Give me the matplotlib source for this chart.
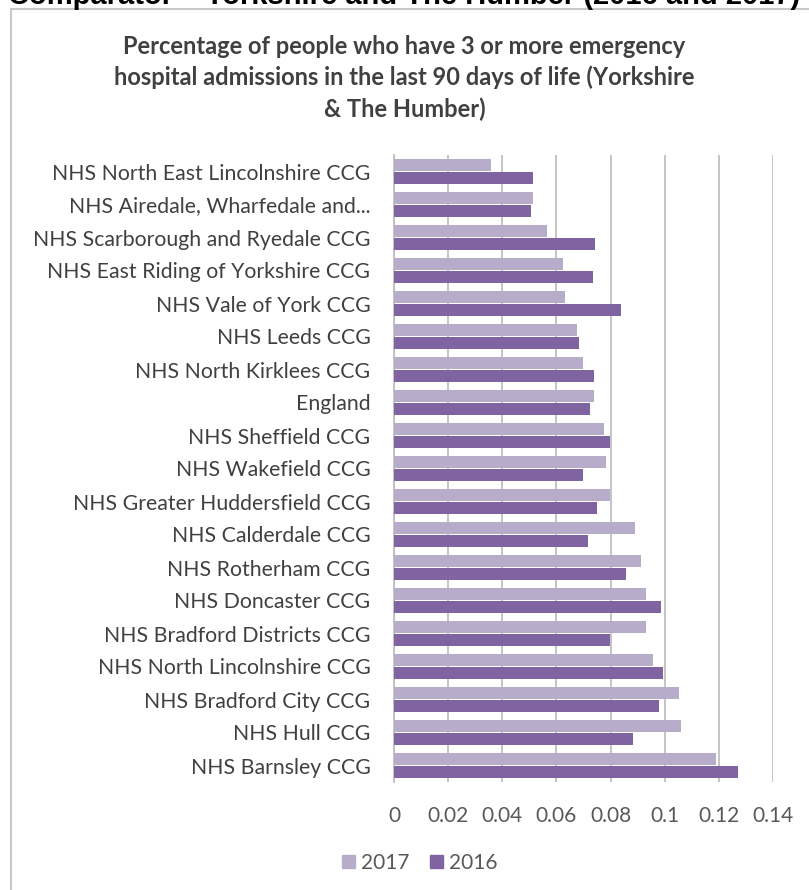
import matplotlib
matplotlib.use('Agg')
import matplotlib.pyplot as plt
import numpy as np
from matplotlib.lines import Line2D

ccgs = ['NHS North East Lincolnshire CCG', 'NHS Airedale, Wharfedale and...',
        'NHS Scarborough and Ryedale CCG', 'NHS East Riding of Yorkshire CCG',
        'NHS Vale of York CCG', 'NHS Leeds CCG', 'NHS North Kirklees CCG', 'England',
        'NHS Sheffield CCG', 'NHS Wakefield CCG', 'NHS Greater Huddersfield CCG',
        'NHS Calderdale CCG', 'NHS Rotherham CCG', 'NHS Doncaster CCG',
        'NHS Bradford Districts CCG', 'NHS North Lincolnshire CCG',
        'NHS Bradford City CCG', 'NHS Hull CCG', 'NHS Barnsley CCG']
y2017 = [0.036, 0.0513, 0.0565, 0.0624, 0.063, 0.0676, 0.0698, 0.0739, 0.0776, 0.0783,
         0.0798, 0.089, 0.0912, 0.0931, 0.093, 0.0955, 0.1053, 0.106, 0.119]
y2016 = [0.0513, 0.0506, 0.0743, 0.0735, 0.0839, 0.0683, 0.0739, 0.0724, 0.0798, 0.0698,
         0.075, 0.0717, 0.0857, 0.0986, 0.0798, 0.0993, 0.098, 0.0884, 0.127]
xticks = [0, 0.02, 0.04, 0.06, 0.08, 0.1, 0.12, 0.14]
xtick_labels = ['0', '0.02', '0.04', '0.06', '0.08', '0.1', '0.12', '0.14']

light = '#B8ACCB'
dark = '#8064A2'
grey_txt = '#595959'
font = 'Lato'

fig = plt.figure(figsize=(8.09, 8.90), dpi=100)
ax = fig.add_axes([394/809, 1-782/890, (773-394)/809, (782-155)/890])

pos = np.arange(len(ccgs))
ax.barh(pos - 0.2, y2017, height=0.34, color=light, zorder=3)
ax.barh(pos + 0.2, y2016, height=0.34, color=dark, zorder=3)

ax.set_ylim(len(ccgs) - 0.5, -0.5)
ax.set_xlim(0, 0.14)
ax.set_xticks(xticks)
ax.set_xticklabels(xtick_labels, fontsize=15, color=grey_txt, family=font)
ax.set_yticks(pos)
ax.set_yticklabels(ccgs, fontsize=15.3, color='#404040', family=font)
ax.tick_params(axis='both', length=0)
ax.tick_params(axis='x', pad=17.5)
ax.tick_params(axis='y', pad=17)
ax.grid(axis='x', color='#BFBFBF', linewidth=1.3, zorder=0)
for s in ['top', 'right', 'bottom']:
    ax.spines[s].set_visible(False)
ax.spines['left'].set_color('#BFBFBF')
ax.spines['left'].set_linewidth(1.3)

# title
fig.text(0.5, 1-35/890, 'Percentage of people who have 3 or more emergency\n'
         'hospital admissions in the last 90 days of life (Yorkshire\n& The Humber)',
         ha='center', va='top', fontsize=17, fontweight='bold', color='#404040',
         family=font, linespacing=1.4)
# cut-off header above the chart
fig.text(0.5, 1-4/890, 'Comparator \u2013 Yorkshire and The Humber (2016 and 2017)',
         ha='center', va='baseline', fontsize=21, fontweight='bold', color='black',
         family='Liberation Sans')

# border of the chart area
fig.add_artist(Line2D([11/809, 11/809], [0, 1-9/890], color='#C8C8C8', linewidth=1.5))
fig.add_artist(Line2D([11/809, 1], [1-9/890, 1-9/890], color='#C8C8C8', linewidth=1.5))

handles = [plt.Rectangle((0, 0), 1, 1, color=light), plt.Rectangle((0, 0), 1, 1, color=dark)]
fig.legend(handles, ['2017', '2016'], loc='center', bbox_to_anchor=(420/809, 1-863/890),
           ncol=2, frameon=False, handlelength=0.6, handleheight=0.6, handletextpad=0.3,
           columnspacing=1.0, prop={'family': font, 'size': 15}, labelcolor=grey_txt)

fig.savefig('out.png', dpi=100)
